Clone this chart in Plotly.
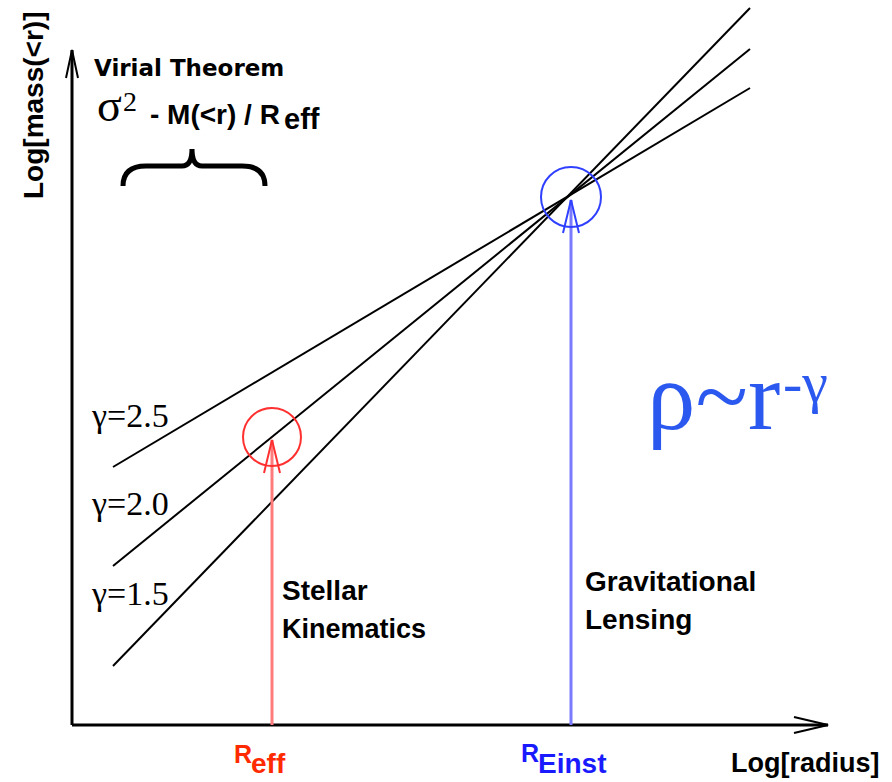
import plotly.graph_objects as go

W, H = 892, 782

# ---- data (schematic units: log radius -> x, log mass -> y) ----
gammas = ["γ=2.5", "γ=2.0", "γ=1.5"]
log_r_start = [113, 113, 113]
log_r_end = [750, 750, 750]
log_m_start = [315, 216, 116]
log_m_end = [694, 733, 774]

r_eff = 272
r_einst = 571
m_at_reff = 345
m_at_reinst = 585

axis_origin = (72, 57)
x_axis_end = 828
y_axis_end = 732


def P(px, py):
    """pixel-ish (top-down) helper -> data coords"""
    return px, H - py


fig = go.Figure()

for g, x0, x1, y0, y1 in zip(gammas, log_r_start, log_r_end, log_m_start, log_m_end):
    fig.add_trace(go.Scatter(x=[x0, x1], y=[y0, y1], mode="lines",
                             line=dict(color="black", width=2), name=g,
                             showlegend=False, hoverinfo="skip"))

shapes = []
ox, oy = axis_origin
# axes
shapes.append(dict(type="line", x0=ox, y0=oy, x1=x_axis_end, y1=oy,
                   line=dict(color="black", width=3)))
shapes.append(dict(type="line", x0=ox, y0=oy, x1=ox, y1=y_axis_end,
                   line=dict(color="black", width=3)))
# open arrowheads on axes
shapes.append(dict(type="path",
                   path=f"M {x_axis_end-34},{oy+8} L {x_axis_end},{oy} L {x_axis_end-34},{oy-8}",
                   line=dict(color="black", width=2)))
shapes.append(dict(type="path",
                   path=f"M {ox-6},{y_axis_end-28} L {ox},{y_axis_end} L {ox+6},{y_axis_end-28}",
                   line=dict(color="black", width=2)))

# measurement arrows
for xr, ym, shaft, ring, rad in [(r_eff, m_at_reff, "#ff7a7a", "#ff3030", 29),
                                  (r_einst, m_at_reinst, "#7a7aff", "#3040ff", 30)]:
    tip = ym - 3
    shapes.append(dict(type="line", x0=xr, y0=oy, x1=xr, y1=tip,
                       line=dict(color=shaft, width=3)))
    shapes.append(dict(type="path",
                       path=f"M {xr-8},{tip-33} L {xr},{tip} L {xr+8},{tip-33}",
                       line=dict(color=ring, width=2)))
    shapes.append(dict(type="circle", x0=xr - rad, x1=xr + rad, y0=ym - rad, y1=ym + rad,
                       line=dict(color=ring, width=2)))

# curly brace under the virial formula
bx = [P(123, 186), P(123, 166), P(146, 166), P(182, 166), P(192, 166), P(192, 149),
      P(192, 166), P(202, 166), P(242, 166), P(265, 166), P(265, 186)]
bp = (f"M {bx[0][0]},{bx[0][1]} Q {bx[1][0]},{bx[1][1]} {bx[2][0]},{bx[2][1]} "
      f"L {bx[3][0]},{bx[3][1]} Q {bx[4][0]},{bx[4][1]} {bx[5][0]},{bx[5][1]} "
      f"Q {bx[6][0]},{bx[6][1]} {bx[7][0]},{bx[7][1]} "
      f"L {bx[8][0]},{bx[8][1]} Q {bx[9][0]},{bx[9][1]} {bx[10][0]},{bx[10][1]}")
shapes.append(dict(type="path", path=bp, line=dict(color="black", width=5)))

SANS = "Liberation Sans"
DJV = "DejaVu Sans"
SERIF = "Liberation Serif"
ann = []


def text(px, baseline, s, size, color="black", family=SANS, xanchor="left", angle=0, cy=None):
    cy = baseline - 0.37 * size if cy is None else cy
    x, y = P(px, cy)
    ann.append(dict(x=x, y=y, text=s, showarrow=False, xanchor=xanchor, yanchor="middle",
                    textangle=angle, borderpad=0,
                    font=dict(family=family, size=size, color=color)))


text(33, None, "<b>Log[mass(&lt;r)]</b>", 28, angle=-90, xanchor="center", cy=106)
text(93, 77, "<b>Virial Theorem</b>", 23, family=DJV)
text(96, 123, "σ", 46, family=SERIF)
text(122, 112, "2", 28, family=SERIF)
text(149, 125, "<b>- M(&lt;r) / R</b>", 28)
text(283, 130, "<b>eff</b>", 29)

for g, b in zip(gammas, [428, 516, 606]):
    text(90, b, g, 34, family=SERIF)

text(281, 601, "<b>Stellar</b>", 28)
text(281, 639, "<b>Kinematics</b>", 27)
text(584, 592, "<b>Gravitational</b>", 28)
text(584, 630, "<b>Lensing</b>", 28)

text(233, 763, "<b>R</b>", 25, color="#ff2a00")
text(250, 774, "<b>eff</b>", 28, color="#ff2a00")
text(520, 762, "<b>R</b>", 25, color="#1a1aff")
text(537, 774, "<b>Einst</b>", 28, color="#1a1aff")
text(730, 773, "<b>Log[radius]</b>", 27)

text(646, 432, "ρ~r", 97, color="#2b58ee", family=SERIF)
text(782, 404, "-γ", 58, color="#2b58ee", family=SERIF)

fig.update_layout(
    width=W, height=H, margin=dict(l=0, r=0, t=0, b=0),
    paper_bgcolor="white", plot_bgcolor="white",
    xaxis=dict(range=[0, W], visible=False, fixedrange=True),
    yaxis=dict(range=[0, H], visible=False, fixedrange=True),
    shapes=shapes, annotations=ann, showlegend=False,
)
fig.write_html("out.html", config={"displayModeBar": False},
               post_script="document.body.style.margin='0';document.body.style.overflow='hidden';")
